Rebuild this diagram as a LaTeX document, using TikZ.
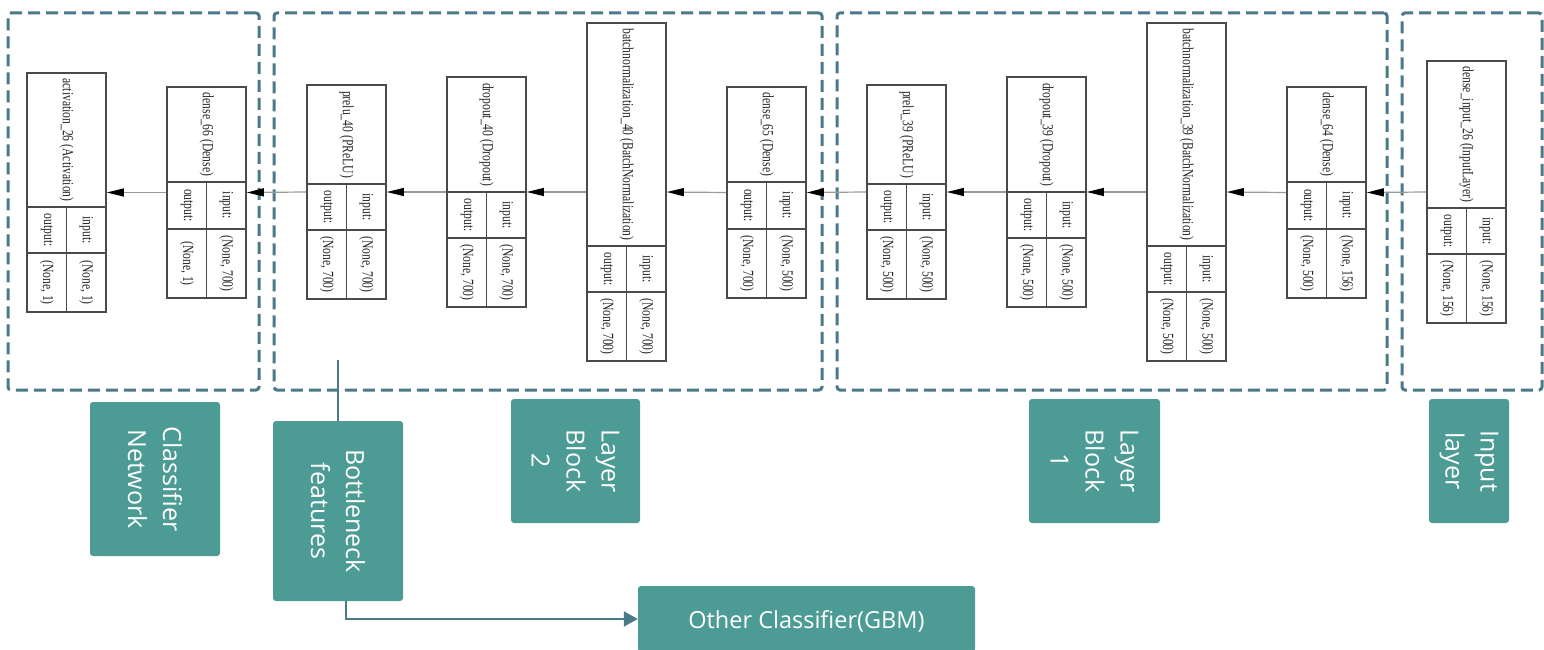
\documentclass[tikz,border=0pt]{standalone}
\usepackage{fontspec}
\usepackage{graphicx}
\setmainfont{Liberation Serif}
\newfontfamily\labelfont{Open Sans}
\usetikzlibrary{arrows.meta,fit}
\definecolor{dashc}{HTML}{4A7A89}
\definecolor{tealc}{HTML}{4C9B94}
\definecolor{kline}{HTML}{9A9A9A}
\definecolor{kedge}{HTML}{4A4A4A}
\tikzset{
  grp/.style={draw=dashc, line width=3pt, dash pattern=on 12pt off 6pt, rounded corners=3pt, inner sep=0pt},
  tag/.style={fill=tealc, rounded corners=3pt, draw=none, inner sep=0pt},
  tagtext/.style={text=white, font=\labelfont\fontsize{25}{35}\selectfont, align=center, rotate=-90, inner sep=0pt},
  gbmtext/.style={text=white, font=\labelfont\fontsize{23.5}{30}\selectfont, inner sep=0pt},
  kbox/.style={draw=kedge, line width=1.6pt, inner sep=0pt},
  kin/.style={draw=kedge, line width=1.6pt},
  ktext/.style={font=\fontsize{15.5}{15.5}\selectfont, text=black!85, rotate=-90, inner sep=0pt},
  flow/.style={draw=kline, line width=1.2pt, -{Triangle[length=17pt,width=8pt,color=black]}},
  conn/.style={draw=dashc, line width=2pt},
}
\newcommand\kscale[1]{\scalebox{0.75}[1]{#1}}
\newcommand\knode[9]{%
  \node[kbox, fit={(#2,#3)({#2+79},#4)}] (#1) {};
  \draw[kin] (#2,#5) -- ({#2+79},#5);
  \draw[kin] ({#2+39.5},#5) -- ({#2+39.5},#4);
  \draw[kin] (#2,#6) -- ({#2+79},#6);
  \node[ktext] at ({#2+39.5},{(#3+#5)/2}) {\kscale{#7}};
  \node[ktext] at ({#2+59.25},{(#5+#6)/2}) {\kscale{input:}};
  \node[ktext] at ({#2+19.75},{(#5+#6)/2}) {\kscale{output:}};
  \node[ktext] at ({#2+59.25},{(#6+#4)/2}) {\kscale{#8}};
  \node[ktext] at ({#2+19.75},{(#6+#4)/2}) {\kscale{#9}};
}
\begin{document}
\begin{tikzpicture}[x=1pt,y=-1pt]
\useasboundingbox (0,0) rectangle (1544,650);
% group boxes
\node[grp, fit={(8,13)(259,390)}] (g1) {};
\node[grp, fit={(274,13)(822,390)}] (g2) {};
\node[grp, fit={(837,13)(1387,390)}] (g3) {};
\node[grp, fit={(1402,13)(1542,390)}] (g4) {};
% keras nodes
\knode{act}{27}{73}{312}{207}{253}{activation\_26 (Activation)}{(None, 1)}{(None, 1)}
\knode{d66}{167}{87}{298}{182}{229}{dense\_66 (Dense)}{(None, 700)}{(None, 1)}
\knode{pr40}{307}{85}{299}{184}{230}{prelu\_40 (PReLU)}{(None, 700)}{(None, 700)}
\knode{dr40}{447}{77}{307}{192}{238}{dropout\_40 (Dropout)}{(None, 700)}{(None, 700)}
\knode{bn40}{587}{23}{361}{246}{292}{batchnormalization\_40 (BatchNormalization)}{(None, 700)}{(None, 700)}
\knode{d65}{727}{87}{298}{182}{229}{dense\_65 (Dense)}{(None, 500)}{(None, 700)}
\knode{pr39}{867}{85}{299}{184}{230}{prelu\_39 (PReLU)}{(None, 500)}{(None, 500)}
\knode{dr39}{1007}{77}{307}{192}{238}{dropout\_39 (Dropout)}{(None, 500)}{(None, 500)}
\knode{bn39}{1147}{23}{361}{246}{292}{batchnormalization\_39 (BatchNormalization)}{(None, 500)}{(None, 500)}
\knode{d64}{1287}{87}{298}{182}{229}{dense\_64 (Dense)}{(None, 156)}{(None, 500)}
\knode{inp}{1427}{61}{323}{208}{254}{dense\_input\_26 (InputLayer)}{(None, 156)}{(None, 156)}
% flow arrows
\draw[flow] (inp.west) -- (d64.east);
\draw[flow] (d64.west) -- (bn39.east);
\draw[flow] (bn39.west) -- (dr39.east);
\draw[flow] (dr39.west) -- (pr39.east);
\draw[flow] (pr39.west) -- (d65.east);
\draw[flow] (d65.west) -- (bn40.east);
\draw[flow] (bn40.west) -- (dr40.east);
\draw[flow] (dr40.west) -- (pr40.east);
\draw[flow] (pr40.west) -- (d66.east);
\draw[flow] (d66.west) -- (act.east);
% tags
\node[tag, fit={(90,402)(220,556)}] (tcls) {};
\node[tagtext] at (tcls.center) {Classifier\\Network};
\node[tag, fit={(273,421)(403,601)}] (tbn) {};
\node[tagtext] at (tbn.center) {Bottleneck\\features};
\node[tag, fit={(511,399)(640,523)}] (tlb2) {};
\node[tagtext] at (tlb2.center) {Layer\\Block\\2};
\node[tag, fit={(1029,399)(1160,523)}] (tlb1) {};
\node[tagtext] at (tlb1.center) {Layer\\Block\\1};
\node[tag, fit={(1429,399)(1509,523)}] (tin) {};
\node[tagtext] at (tin.center) {Input\\layer};
\node[tag, fit={(638,586)(975,652)}] (gbm) {};
\node[gbmtext] at ([yshift=-2pt]gbm.center) {Other Classifier(GBM)};
% bottleneck connectors
\coordinate (btop) at (338,360);
\draw[conn] (btop) -- (btop |- tbn.north);
\draw[conn, -{Triangle[length=14pt,width=15pt]}] ([xshift=8pt]tbn.south) |- (gbm.west);
\end{tikzpicture}
\end{document}
